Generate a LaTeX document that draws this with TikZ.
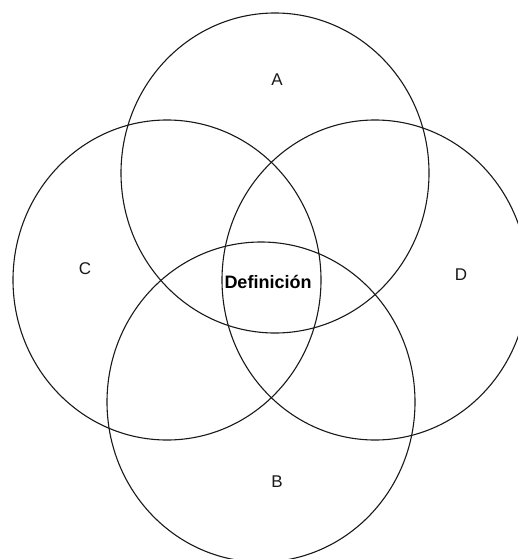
\documentclass[tikz,border=0pt]{standalone}
\usepackage{fontspec}
\setmainfont{Liberation Sans}
\begin{document}
\begin{tikzpicture}[x=1pt,y=-1pt,
  venn/.style={draw=black!90,line width=1.1pt},
  lbl/.style={font=\fontsize{17}{17}\selectfont,text=black!90,inner sep=0pt},
  core/.style={font=\bfseries\fontsize{18}{18}\selectfont,inner sep=0pt}]
\useasboundingbox (0,0) rectangle (518,559);
\clip (0,0) rectangle (518,559);
\fill[white] (0,0) rectangle (518,559);
\draw[venn] (275,173) ellipse [x radius=154, y radius=160];
\draw[venn] (167,280) ellipse [x radius=154, y radius=160];
\draw[venn] (375,280) ellipse [x radius=153, y radius=160];
\draw[venn] (261,402) ellipse [x radius=154, y radius=160];
\node[lbl] (a) at (277,80) {A};
\node[lbl] (c) at (85,269) {C};
\node[lbl] (d) at (461,275) {D};
\node[lbl] (b) at (277,482) {B};
\node[core] (def) at (268,282) {Definición};
\end{tikzpicture}
\end{document}
